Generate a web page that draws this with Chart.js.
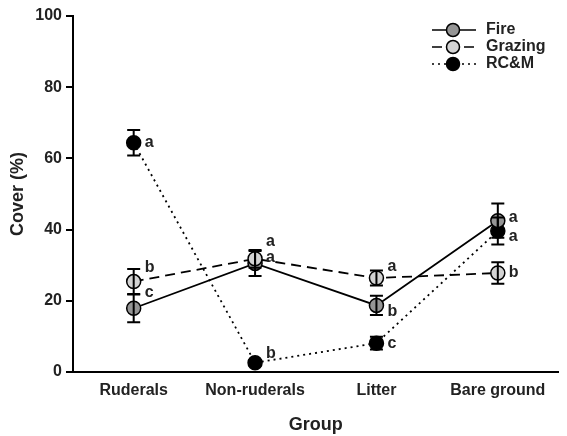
<!DOCTYPE html>
<html>
<head>
<meta charset="utf-8">
<script src="https://cdn.jsdelivr.net/npm/chart.js@4/dist/chart.umd.min.js"></script>
<style>
  html, body { margin: 0; padding: 0; background: #fff; }
  #wrap { width: 567px; height: 436px; position: relative; }
</style>
</head>
<body>
<div id="wrap"><canvas id="coverChart"></canvas></div>
<script>
// Data
const categories = ['Ruderals', 'Non-ruderals', 'Litter', 'Bare ground'];
const yTicks = [0, 20, 40, 60, 80, 100];

const fireMeans = [17.9, 30.5, 18.7, 42.5];
const fireErrors = [3.9, 3.5, 2.7, 4.8];
const grazingMeans = [25.4, 31.8, 26.4, 27.8];
const grazingErrors = [3.5, 2.5, 2.1, 3.0];
const rcmMeans = [64.4, 2.6, 8.1, 39.6];
const rcmErrors = [3.6, 0.8, 1.8, 3.8];

// significance letters and the height (in % cover) where they sit
const fireLetters = ['c', 'a', 'b', 'a'];
const fireLetterY = [22.2, 32.0, 17.1, 43.5];
const grazingLetters = ['b', 'a', 'a', 'b'];
const grazingLetterY = [29.2, 36.5, 29.5, 27.8];
const rcmLetters = ['a', 'b', 'c', 'a'];
const rcmLetterY = [64.3, 5.3, 8.1, 37.9];

const FONT = "'Liberation Sans', Arial, sans-serif";

// error bars + letters, drawn on top of the points
const errorBarPlugin = {
    id: 'errorBars',
    afterDatasetsDraw(chart) {
        const ctx = chart.ctx;
        const x = chart.scales.x;
        const y = chart.scales.y;
        ctx.save();
        chart.data.datasets.forEach(ds => {
            ds.data.forEach((v, i) => {
                const px = x.getPixelForValue(i);
                const top = y.getPixelForValue(v + ds.errors[i]);
                const bot = y.getPixelForValue(v - ds.errors[i]);
                ctx.strokeStyle = '#000';
                ctx.lineWidth = 2;
                ctx.beginPath();
                ctx.moveTo(px, top); ctx.lineTo(px, bot);
                ctx.moveTo(px - 6.5, top); ctx.lineTo(px + 6.5, top);
                ctx.moveTo(px - 6.5, bot); ctx.lineTo(px + 6.5, bot);
                ctx.stroke();
            });
        });
        ctx.fillStyle = '#222';
        ctx.font = 'bold 16px ' + FONT;
        ctx.textAlign = 'left';
        ctx.textBaseline = 'middle';
        chart.data.datasets.forEach(ds => {
            ds.letters.forEach((l, i) => {
                ctx.fillText(l, x.getPixelForValue(i) + 11, y.getPixelForValue(ds.letterY[i]));
            });
        });
        ctx.restore();
    }
};

// legend in the top right corner: line + marker + name
const legendPlugin = {
    id: 'customLegend',
    afterDraw(chart) {
        const ctx = chart.ctx;
        ctx.save();
        chart.data.datasets.forEach((ds, i) => {
            const rowY = 30 + i * 17;
            ctx.strokeStyle = '#000';
            ctx.lineWidth = 1.6;
            ctx.setLineDash(ds.borderDash || []);
            ctx.beginPath();
            ctx.moveTo(432, rowY); ctx.lineTo(476, rowY);
            ctx.stroke();
            ctx.setLineDash([]);
            ctx.beginPath();
            ctx.arc(453, rowY, 6.5, 0, Math.PI * 2);
            ctx.fillStyle = ds.pointBackgroundColor;
            ctx.fill();
            ctx.lineWidth = 1.5;
            ctx.stroke();
            ctx.fillStyle = '#222';
            ctx.font = 'bold 16px ' + FONT;
            ctx.textAlign = 'left';
            ctx.textBaseline = 'middle';
            ctx.fillText(ds.label, 486, rowY);
        });
        ctx.restore();
    }
};

function makeSet(label, means, errors, letters, letterY, fill, dash, order) {
    return {
        label: label,
        data: means,
        errors: errors,
        letters: letters,
        letterY: letterY,
        order: order, // lower order is drawn on top
        borderColor: '#000',
        borderWidth: 1.8,
        borderDash: dash,
        pointRadius: 7,
        pointBorderWidth: 1.5,
        pointBorderColor: '#000',
        pointBackgroundColor: fill,
        tension: 0,
        clip: false
    };
}

new Chart(document.getElementById('coverChart'), {
    type: 'line',
    data: {
        labels: categories,
        datasets: [
            makeSet('Fire', fireMeans, fireErrors, fireLetters, fireLetterY, '#959595', [], 1),
            makeSet('Grazing', grazingMeans, grazingErrors, grazingLetters, grazingLetterY, '#d3d3d3', [10, 6], 0),
            makeSet('RC&M', rcmMeans, rcmErrors, rcmLetters, rcmLetterY, '#000', [2, 4], 2)
        ]
    },
    options: {
        responsive: true,
        maintainAspectRatio: false,
        animation: false,
        layout: { padding: { top: 16, right: 0, left: 0, bottom: 0 } },
        plugins: {
            legend: { display: false },
            tooltip: { enabled: false }
        },
        scales: {
            x: {
                offset: true,
                grid: { display: false, drawTicks: false },
                border: { display: true, color: '#000', width: 2 },
                ticks: { color: '#222', padding: 9, font: { family: FONT, size: 16, weight: 'bold' } },
                title: { display: true, text: 'Group', color: '#222', padding: { top: 0, bottom: 0 },
                         font: { family: FONT, size: 18, weight: 'bold' } },
                afterFit(scale) { scale.height = 64; }
            },
            y: {
                min: 0,
                max: 100,
                afterBuildTicks(scale) { scale.ticks = yTicks.map(v => ({ value: v })); },
                grid: { drawOnChartArea: false, color: '#000', lineWidth: 2, tickLength: 7 },
                border: { display: true, color: '#000', width: 2 },
                ticks: { color: '#222', padding: 4, font: { family: FONT, size: 16, weight: 'bold' } },
                title: { display: true, text: 'Cover (%)', color: '#222', padding: { top: 7, bottom: 0 },
                         font: { family: FONT, size: 18, weight: 'bold' } },
                afterFit(scale) { scale.width = 73; }
            }
        }
    },
    plugins: [errorBarPlugin, legendPlugin]
});
</script>
</body>
</html>
